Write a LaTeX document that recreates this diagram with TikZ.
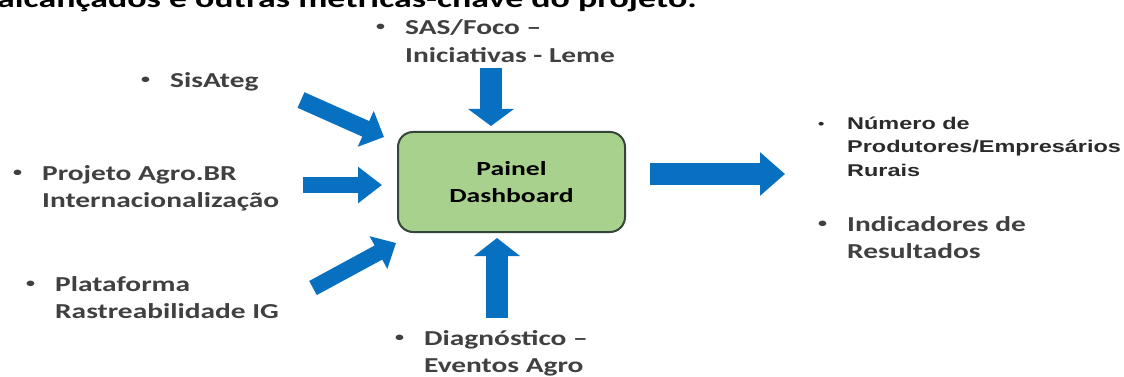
\documentclass[tikz,border=0pt]{standalone}
\usepackage{fontspec}
\usetikzlibrary{arrows.meta}
\setmainfont[FakeStretch=1.38]{Carlito}
\newfontfamily\arialb[FakeStretch=1.38]{Liberation Sans}
\definecolor{arrowblue}{HTML}{0870C0}
\definecolor{boxgreen}{HTML}{A9D18E}
\definecolor{boxedge}{HTML}{34463A}
\definecolor{txtgray}{HTML}{404040}
\definecolor{txtdark}{HTML}{2A2A2A}
\newcommand{\bul}[1][4pt]{\makebox[30pt][l]{\hspace{1pt}\raisebox{#1}{\fontsize{13}{13}\selectfont\textbullet}}}
\newcommand{\ind}{\hspace*{30pt}}
\tikzset{
  blk/.style={line width=#1, color=arrowblue},
  lbl/.style={anchor=base west, inner sep=0pt, text=txtgray,
    font=\fontsize{21.3}{27.5}\selectfont\bfseries},
  lblr/.style={anchor=base west, inner sep=0pt, text=txtdark,
    font=\fontsize{17}{23.5}\selectfont\arialb\bfseries},
}
\begin{document}
\begin{tikzpicture}[x=1pt,y=-1pt]
\clip (0,0) rectangle (1124,377);
\fill[white] (0,0) rectangle (1124,377);
% cut top line
\node[anchor=base east, inner sep=0pt, text=black,
  font=\fontsize{26}{30}\selectfont\bfseries] (topline) at (697,8)
  {alcançados e outras métricas-chave do projeto.};
% central box
\node[draw=boxedge, line width=2pt, fill=boxgreen, rounded corners=15pt,
  minimum width=227pt, minimum height=100pt, align=center,
  font=\fontsize{20}{26.5}\selectfont\bfseries, text=black] (dash) at (511.5,182)
  {Painel\\Dashboard};
% labels
\node[lbl] (sas) at (375,35)
  {\begin{tabular}[t]{@{}l@{}}\bul SAS/Foco –\\\ind Iniciativas - Leme\end{tabular}};
\node[lbl] (sis) at (140,88) {\bul SisAteg};
\node[lbl] (proj) at (12,180)
  {\begin{tabular}[t]{@{}l@{}}\bul Projeto Agro.BR\\\ind Internacionalização\end{tabular}};
\node[lbl] (plat) at (25,291)
  {\begin{tabular}[t]{@{}l@{}}\bul Plataforma\\\ind Rastreabilidade IG\end{tabular}};
\node[lbl] (diag) at (394,345)
  {\begin{tabular}[t]{@{}l@{}}\bul Diagnóstico –\\\ind Eventos Agro\end{tabular}};
\node[lblr] (num) at (817,129)
  {\begin{tabular}[t]{@{}l@{}}\bul[1pt]Número de\\\ind Produtores/Empresários\\\ind Rurais\end{tabular}};
\node[lbl] (ind) at (817,231)
  {\begin{tabular}[t]{@{}l@{}}\bul Indicadores de\\\ind Resultados\end{tabular}};
% arrow coordinates
\coordinate (t1) at (491,68);   \coordinate (h1) at (491,126);
\coordinate (t2) at (301,100);  \coordinate (h2) at (384,137);
\coordinate (t3) at (303,185);  \coordinate (h3) at (382,185);
\coordinate (t4) at (313,288);  \coordinate (h4) at (396,243);
\coordinate (t5) at (497,318);  \coordinate (h5) at (497,238);
\coordinate (t6) at (650,174);  \coordinate (h6) at (785,174);
\draw[blk=22pt, -{Triangle[width=45pt,length=17pt]}] (t1) -- (h1);
\draw[blk=17pt, -{Triangle[width=38pt,length=20pt]}] (t2) -- (h2);
\draw[blk=16pt, -{Triangle[width=35pt,length=24pt]}] (t3) -- (h3);
\draw[blk=16pt, -{Triangle[width=36pt,length=20pt]}] (t4) -- (h4);
\draw[blk=22pt, -{Triangle[width=45pt,length=18pt]}] (t5) -- (h5);
\draw[blk=22pt, -{Triangle[width=42pt,length=25pt]}] (t6) -- (h6);
\end{tikzpicture}
\end{document}
